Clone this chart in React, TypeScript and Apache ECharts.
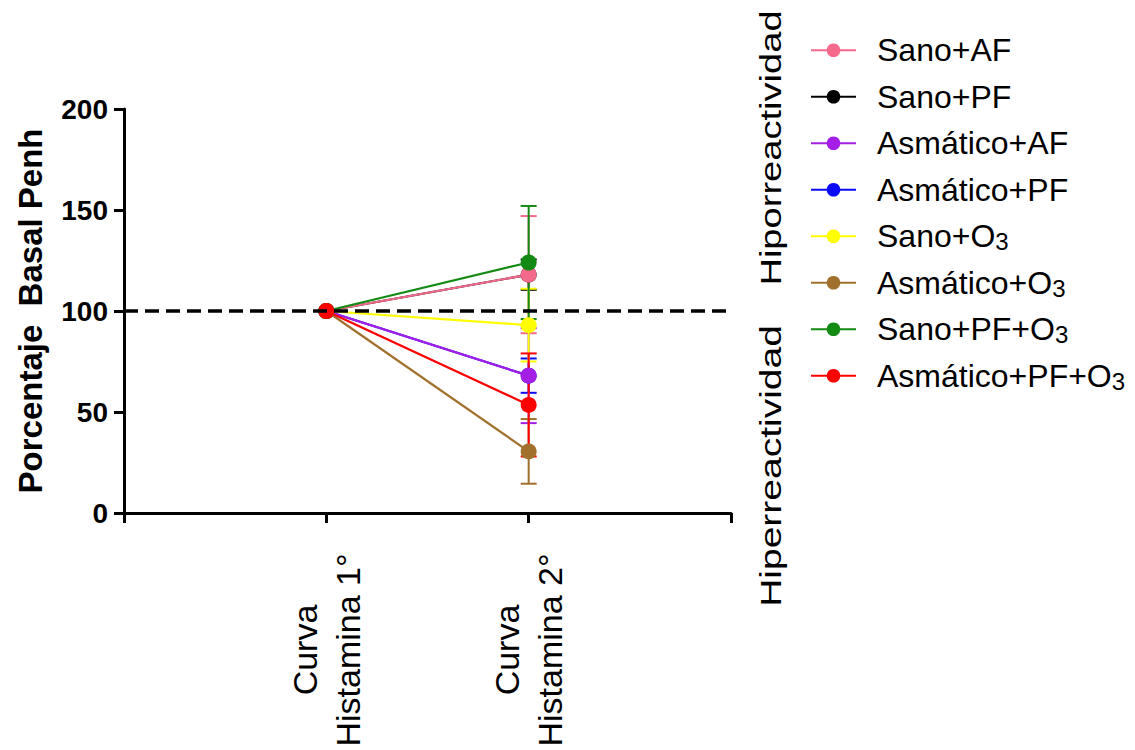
import React, { useEffect, useRef } from "react";
import * as echarts from "echarts";

const FONT = "'Liberation Sans', Arial, Helvetica, sans-serif";

const seriesNames = [
  "Sano+AF",
  "Sano+PF",
  "Asmático+AF",
  "Asmático+PF",
  "Sano+O3",
  "Asmático+O3",
  "Sano+PF+O3",
  "Asmático+PF+O3",
];
const seriesColors = [
  "#F4698C",
  "#000000",
  "#A51EE6",
  "#0A0AF5",
  "#FFFF00",
  "#A0702C",
  "#138A13",
  "#FF0000",
];
const categoryPositions = [1, 2];
const categoryLabels = ["Curva\nHistamina 1°", "Curva\nHistamina 2°"];
const firstCurve = [100, 100, 100, 100, 100, 100, 100, 100];
const secondCurve = [118, 118, 68, 68, 93, 30.5, 124, 53.5];
const secondSem = [29, 7.5, 23.5, 8.5, 18, 16, 28, 25.5];
const drawOrder = [1, 3, 0, 2, 4, 5, 6, 7];
const yTicks = { min: 0, max: 200, interval: 50 };
const baseline = 100;

export default function App() {
  const ref = useRef<HTMLDivElement>(null);

  useEffect(() => {
    if (!ref.current) return;
    const chart = echarts.init(ref.current, undefined, { renderer: "svg" });

    const series: any[] = [];
    drawOrder.forEach((i, k) => {
      const color = seriesColors[i];
      series.push({
        name: seriesNames[i] + " error",
        type: "custom",
        data: [[categoryPositions[1], secondCurve[i], secondSem[i]]],
        encode: { x: 0, y: 1 },
        silent: true,
        renderItem: (params: any, api: any) => {
          const x = api.value(0);
          const m = api.value(1);
          const e = api.value(2);
          const top = api.coord([x, m + e]);
          const bot = api.coord([x, m - e]);
          const hw = 8;
          const st = { stroke: color, lineWidth: 2 };
          return {
            type: "group",
            children: [
              { type: "line", shape: { x1: top[0], y1: top[1], x2: bot[0], y2: bot[1] }, style: st },
              { type: "line", shape: { x1: top[0] - hw, y1: top[1], x2: top[0] + hw, y2: top[1] }, style: st },
              { type: "line", shape: { x1: bot[0] - hw, y1: bot[1], x2: bot[0] + hw, y2: bot[1] }, style: st },
            ],
          };
        },
      });
      const s: any = {
        name: seriesNames[i],
        type: "line",
        data: [
          [categoryPositions[0], firstCurve[i]],
          [categoryPositions[1], secondCurve[i]],
        ],
        symbol: "circle",
        symbolSize: 16,
        lineStyle: { color, width: 2.2 },
        itemStyle: { color },
      };
      if (k === 0) {
        s.markLine = {
          silent: true,
          symbol: ["none", "none"],
          label: { show: false },
          lineStyle: { color: "#000", type: [14, 7], width: 3.5 },
          data: [[{ coord: [0, baseline] }, { coord: [3, baseline] }]],
        };
      }
      series.push(s);
    });

    chart.setOption({
      animation: false,
      backgroundColor: "#fff",
      textStyle: { fontFamily: FONT },
      grid: { left: 124, right: 404, top: 109, bottom: 237, containLabel: false },
      legend: {
        data: seriesNames,
        orient: "vertical",
        left: 805,
        top: 28,
        itemWidth: 45,
        itemHeight: 17,
        itemGap: 12,
        selectedMode: false,
        formatter: (name: string) => name.replace(/O3/g, "O{sub|3}"),
        textStyle: {
          fontFamily: FONT,
          fontSize: 32,
          lineHeight: 34.5,
          color: "#000",
          padding: [0, 0, 0, 16],
          rich: {
            sub: { fontFamily: FONT, fontSize: 24, lineHeight: 14, verticalAlign: "bottom", color: "#000" },
          },
        },
      },
      xAxis: {
        type: "value",
        min: 0,
        max: 3,
        interval: 1,
        splitLine: { show: false },
        axisLine: { show: true, lineStyle: { color: "#000", width: 3 } },
        axisTick: { show: true, length: 10, lineStyle: { color: "#000", width: 3 } },
        axisLabel: {
          rotate: 90,
          align: "center",
          verticalAlign: "middle",
          margin: 137,
          fontSize: 34,
          lineHeight: 43,
          color: "#000",
          fontFamily: FONT,
          showMinLabel: true,
          showMaxLabel: true,
          formatter: (v: number) => {
            const idx = categoryPositions.indexOf(v);
            return idx >= 0 ? categoryLabels[idx] : "";
          },
        },
      },
      yAxis: {
        type: "value",
        min: yTicks.min,
        max: yTicks.max,
        interval: yTicks.interval,
        name: "Porcentaje  Basal Penh",
        nameLocation: "middle",
        nameGap: 77,
        nameTextStyle: { fontSize: 33, fontWeight: "bold", color: "#000", fontFamily: FONT },
        splitLine: { show: false },
        axisLine: { show: true, lineStyle: { color: "#000", width: 3 } },
        axisTick: { show: true, length: 10, lineStyle: { color: "#000", width: 3 } },
        axisLabel: { fontSize: 28, fontWeight: "bold", color: "#000", margin: 16, fontFamily: FONT },
      },
      graphic: [
        {
          type: "text",
          x: 771,
          y: 148,
          rotation: Math.PI / 2,
          scaleX: 1.27,
          style: {
            text: "Hiporreactividad",
            fontSize: 30,
            fontFamily: FONT,
            fill: "#000",
            align: "center",
            verticalAlign: "middle",
          },
        },
        {
          type: "text",
          x: 771,
          y: 466,
          rotation: Math.PI / 2,
          scaleX: 1.3,
          style: {
            text: "Hiperreactividad",
            fontSize: 30,
            fontFamily: FONT,
            fill: "#000",
            align: "center",
            verticalAlign: "middle",
          },
        },
      ],
      series,
    });

    return () => chart.dispose();
  }, []);

  return (
    <div
      ref={ref}
      style={{ position: "absolute", left: 0, top: 0, width: 1135, height: 750, background: "#fff" }}
    />
  );
}
